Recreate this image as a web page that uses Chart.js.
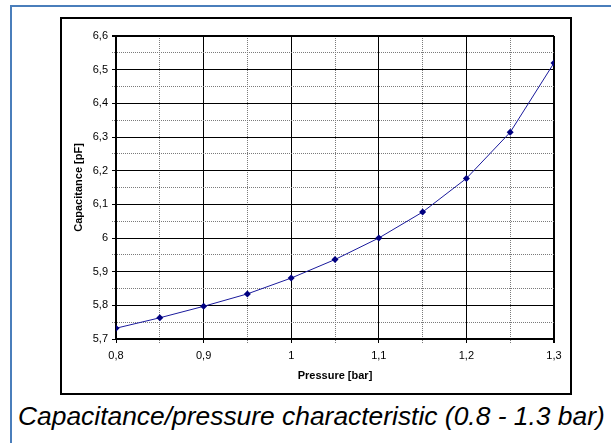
<!DOCTYPE html>
<html>
<head>
<meta charset="utf-8">
<script src="https://cdn.jsdelivr.net/npm/chart.js@4/dist/chart.umd.min.js"></script>
<style>
  html, body { margin: 0; padding: 0; background: #fff; width: 611px; height: 443px; overflow: hidden; }
  #frame { position: absolute; left: 10px; top: 5px; width: 620px; height: 460px;
           border-left: 2px solid #4a7ebb; border-top: 2px solid #4a7ebb; }
  #box { position: absolute; left: 60px; top: 17px; width: 508px; height: 374px; border: 2px solid #000; }
  #box canvas { display: block; }
  #caption { position: absolute; left: 18px; top: 399px; font-family: "Liberation Sans", Arial, sans-serif;
             font-style: italic; font-size: 26.4px; line-height: 34px; color: #000; white-space: nowrap; }
</style>
</head>
<body>
<div id="frame"></div>
<div id="box"><canvas id="c" width="508" height="374"></canvas></div>
<div id="caption">Capacitance/pressure characteristic (0.8 - 1.3 bar)</div>
<script>
// Data
const pressure = [0.8, 0.85, 0.9, 0.95, 1.0, 1.05, 1.1, 1.15, 1.2, 1.25, 1.3];
const capacitance = [5.732, 5.763, 5.797, 5.834, 5.881, 5.936, 6.0, 6.077, 6.177, 6.314, 6.52];
const xTitle = 'Pressure [bar]';
const yTitle = 'Capacitance [pF]';

const isMajor = v => Math.abs(v * 10 - Math.round(v * 10)) < 1e-6;
const fmt = v => isMajor(v) ? String(Number(v.toFixed(1))).replace('.', ',') : '';

function gridOpts(maxVal) {
  return {
    color: ctx => (ctx.tick && !isMajor(ctx.tick.value)) ? '#7a7a7a' : '#000',
    lineWidth: ctx => (ctx.tick && Math.abs(ctx.tick.value - maxVal) < 1e-6) ? 2 : 1,
    tickColor: ctx => (ctx.tick && !isMajor(ctx.tick.value)) ? '#7a7a7a' : '#000',
    tickLength: 4,
    tickBorderDash: ctx => (ctx.tick && !isMajor(ctx.tick.value)) ? [1, 1] : [],
    drawTicks: true
  };
}
function borderOpts() {
  return {
    display: true, color: '#000', width: 2,
    dash: ctx => (ctx.tick && !isMajor(ctx.tick.value)) ? [1, 1] : []
  };
}

const font = { family: '"Liberation Sans", Arial, sans-serif', size: 11 };
const titleFont = { family: '"Liberation Sans", Arial, sans-serif', size: 11, weight: 'bold' };

new Chart(document.getElementById('c'), {
  type: 'line',
  data: {
    datasets: [{
      data: pressure.map((p, i) => ({ x: p, y: capacitance[i] })),
      borderColor: '#1a1a9c',
      backgroundColor: '#000080',
      borderWidth: 1,
      pointStyle: 'rectRot',
      pointRadius: 3.5,
      pointBorderWidth: 0,
      pointBackgroundColor: '#000080',
      tension: 0,
      fill: false
    }]
  },
  options: {
    responsive: false,
    animation: false,
    layout: { padding: { left: 0, top: 17, right: 16, bottom: 0 } },
    plugins: { legend: { display: false }, tooltip: { enabled: false } },
    scales: {
      x: {
        type: 'linear', min: 0.8, max: 1.3,
        ticks: { stepSize: 0.05, autoSkip: false, maxRotation: 0, callback: v => fmt(v), color: '#000', font: font, padding: 6 },
        grid: gridOpts(1.3),
        border: borderOpts(),
        title: { display: true, text: xTitle, color: '#000', font: titleFont, padding: { top: 0, bottom: 10 } },
        afterFit: s => { s.height = 54; }
      },
      y: {
        type: 'linear', min: 5.7, max: 6.6,
        ticks: { stepSize: 0.05, autoSkip: false, callback: v => fmt(v), color: '#000', font: font, padding: 4 },
        grid: gridOpts(6.6),
        border: borderOpts(),
        title: { display: true, text: yTitle, color: '#000', font: titleFont, padding: { top: 10, bottom: 0 } },
        afterFit: s => { s.width = 54; }
      }
    }
  }
});
</script>
</body>
</html>
